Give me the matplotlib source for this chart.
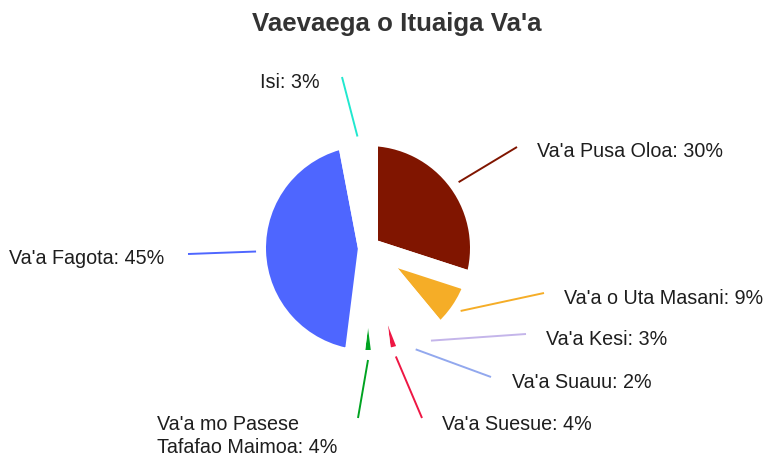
import numpy as np
import matplotlib.pyplot as plt

W, H = 767, 457

# data
labels = ["Va'a Pusa Oloa", "Va'a o Uta Masani", "Va'a Kesi", "Va'a Suauu",
          "Va'a Suesue", "Va'a mo Pasese\nTafafao Maimoa", "Va'a Fagota", "Isi"]
values = [30, 9, 3, 2, 4, 4, 45, 3]
colors = ['#801500', '#f5ad27', '#c4b5ea', '#92a8ee',
          '#ee1744', '#00a321', '#4e66ff', '#21e8cf']

# layout (pixel coords, y down)
cx, cy, R = 368, 248, 112
line_ends = [(517, 147), (544, 293), (526, 334), (491, 377),
             (422, 418), (358, 418), (188, 254), (342, 77)]
text_pos = [(537, 157, 'left'), (564, 304, 'left'), (546, 345, 'left'),
            (512, 388, 'left'), (442, 430, 'left'), (337, 453, 'right'),
            (164, 264, 'right'), (320, 88, 'right')]

fig = plt.figure(figsize=(W / 100, H / 100), dpi=100)
ax = fig.add_axes([0, 0, 1, 1])

ax.pie(values, colors=colors, startangle=90, counterclock=False,
       center=(cx, H - cy), radius=R,
       wedgeprops=dict(edgecolor='white', linewidth=14.4))

# label lines from the slice edge outwards
total = sum(values)
cum = np.cumsum([0] + values[:-1])
for i, v in enumerate(values):
    mid = (cum[i] + v / 2) / total * 2 * np.pi
    sx = cx + R * np.sin(mid)
    sy = cy - R * np.cos(mid)
    ex, ey = line_ends[i]
    ax.plot([sx, ex], [H - sy, H - ey], color=colors[i], lw=1.4,
            solid_capstyle='butt', zorder=3)
    tx, ty, ha = text_pos[i]
    # for two-line labels the baseline is that of the last line
    ax.text(tx, H - ty, "{}: {}%".format(labels[i], v), ha=ha,
            va='baseline', fontsize=14.2, family='Liberation Sans',
            color='#1e1e1e', multialignment='left', linespacing=1.27)

ax.text(397, H - 31.5, "Vaevaega o Ituaiga Va'a", ha='center',
        va='baseline', fontsize=18.6, fontweight='bold',
        family='Liberation Sans', color='#333333')

ax.set_xlim(0, W)
ax.set_ylim(0, H)
ax.set_aspect('equal')
ax.axis('off')

fig.savefig('out.png', dpi=100)
